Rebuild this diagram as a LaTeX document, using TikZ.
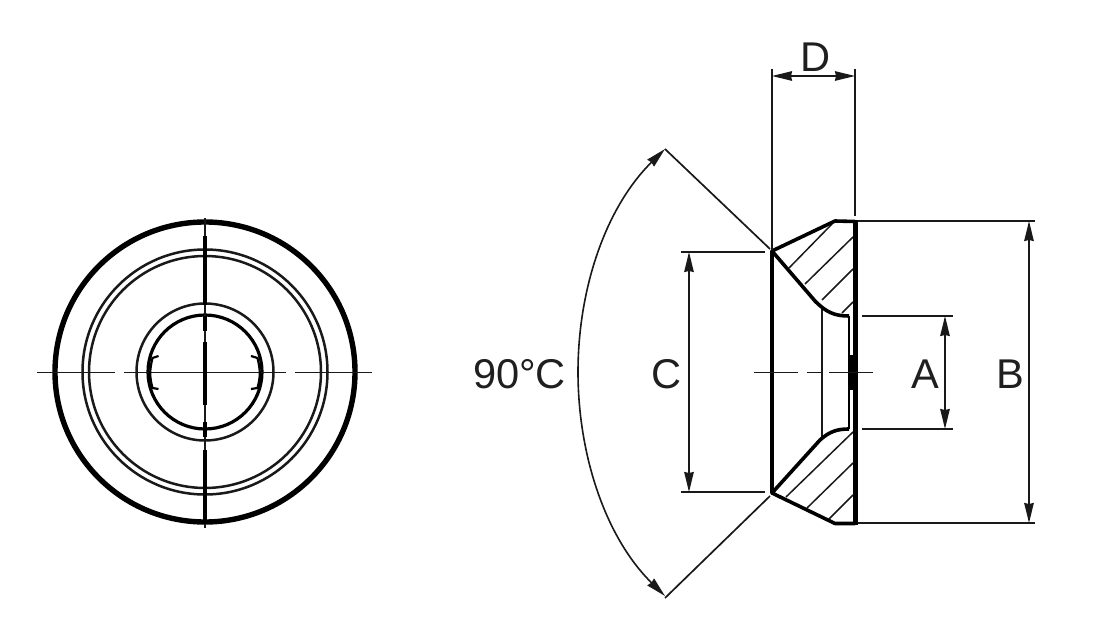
\documentclass[tikz,border=0pt]{standalone}
\usepackage{fontspec}
\setmainfont{Liberation Sans}
\usetikzlibrary{arrows.meta}
\tikzset{
  thinl/.style={line width=1.7pt,black!90},
  medl/.style={line width=2.5pt,black!90},
  hatchl/.style={line width=1.5pt,black!90},
  diml/.style={line width=1.6pt,black!90,{Stealth[length=20pt,width=9.5pt,inset=1pt]}-{Stealth[length=20pt,width=9.5pt,inset=1pt]}},
  lab/.style={font=\fontsize{41.6}{42}\selectfont,text=black!88,inner sep=0pt,anchor=mid}
}
\begin{document}
\begin{tikzpicture}[x=1pt,y=-1pt]
\useasboundingbox (0,0) rectangle (1093,634);
% front view
\coordinate (o) at (205,372);
\draw[line width=5.4pt] (o) circle[radius=150];
\draw[medl] (o) circle[radius=122.5];
\draw[medl] (o) circle[radius=116];
\draw[medl] (o) circle[radius=68.5];
\draw[line width=3.2pt] (o) circle[radius=57];
% centre lines
\draw[thinl] (37,372.5) -- (115,372.5) (124,372.5) -- (286,372.5) (295,372.5) -- (372,372.5);
\draw[thinl] (205,218) -- (205,528);
\draw[line width=4pt] (205,236) -- (205,305) (205,316) -- (205,331) (205,342) -- (205,405) (205,422) -- (205,437) (205,450) -- (205,524);
% keys
\draw[line width=2.2pt] (158.5,356) -- (152.5,358) .. controls (149.5,370) and (149.5,377) .. (152.5,388) -- (158.5,389);
\draw[line width=2.2pt] (251,356) -- (257.5,358) .. controls (260.5,370) and (260.5,377) .. (257.5,388) -- (251,389);
% section view
\draw[hatchl] (789,268) -- (832,224) (805,284) -- (853,237) (822,300) -- (853,269) (842,313) -- (853,302)
  (786,497) -- (853,432) (807,508) -- (853,463) (829,519) -- (853,495);
\draw[medl] (822,308) -- (822,437);
\draw[line width=2pt] (849,316) -- (849,429);
\draw[line width=3.4pt] (772,251) -- (772,493);
\draw[line width=4.4pt] (855.5,220) -- (855.5,525);
\draw[line width=3.6pt,line join=round] (855,221.5) -- (835,221) -- (772,251) -- (815,301) .. controls (826,312) and (834,316) .. (849,316);
\draw[line width=3.6pt,line join=round] (855,523.5) -- (835,523.5) -- (772,493) -- (820,440) .. controls (830,431) and (838,429) .. (849,429);
\draw[line width=5pt] (851,355) -- (851,390);
\draw[thinl] (754,372.5) -- (798,372.5) (807,372.5) -- (821,372.5) (829,372.5) -- (873,372.5);
% dimensions
\coordinate (dl) at (772,76);
\coordinate (dr) at (855,76);
\draw[thinl] (772,69) -- (772,250) (855,69) -- (855,216);
\draw[diml] (dl) -- (dr);
\node[lab] (labD) at (816,68.5) {D};
\draw[thinl] (858,221) -- (1035,221) (858,523) -- (1035,523);
\coordinate (bt) at (1029,221);
\coordinate (bb) at (1029,523);
\draw[diml] (bt) -- (bb);
\node[lab] (labB) at (1010,386) {B};
\draw[thinl] (862,316) -- (953,316) (862,429) -- (953,429);
\coordinate (at) at (945,316);
\coordinate (ab) at (945,429);
\draw[diml] (at) -- (ab);
\node[lab] (labA) at (925,386) {A};
\draw[thinl] (681,252) -- (765,252) (681,492) -- (765,492);
\coordinate (ct) at (689,252);
\coordinate (cb) at (689,492);
\draw[diml] (ct) -- (cb);
\node[lab] (labC) at (667,386) {C};
\coordinate (at1) at (665,149);
\coordinate (at2) at (665,596);
\draw[thinl] (770,249) -- (at1) (770,496) -- (665,598);
\draw[diml] (at1) .. controls (605,208) and (578,290) .. (578,372) .. controls (578,454) and (605,537) .. (at2);
\node[lab] (labAng) at (519.5,386) {90°C};
\end{tikzpicture}
\end{document}
